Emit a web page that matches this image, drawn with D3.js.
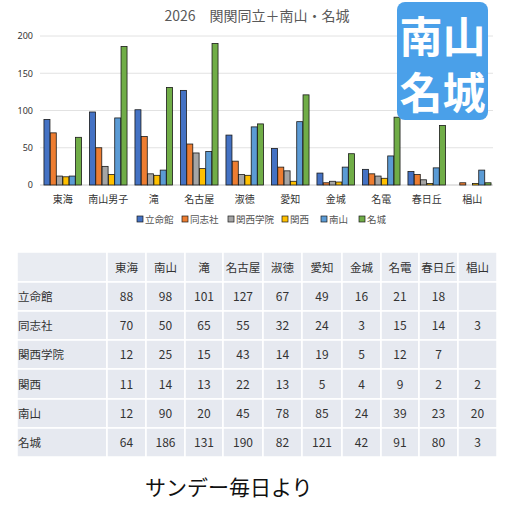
<!DOCTYPE html>
<html>
<head>
<meta charset="utf-8">
<script src="https://cdn.jsdelivr.net/npm/d3@7"></script>
<style>
body{margin:0;background:#fff;font-family:"Noto Sans CJK JP","Noto Sans",sans-serif;}
</style>
</head>
<body>
<script>
const schools = ["東海","南山男子","滝","名古屋","淑徳","愛知","金城","名電","春日丘","椙山"];
const tableHeads = ["東海","南山","滝","名古屋","淑徳","愛知","金城","名電","春日丘","椙山"];
const univs = ["立命館","同志社","関西学院","関西","南山","名城"];
const ritsumeikan = [88,98,101,127,67,49,16,21,18,null];
const doshisha = [70,50,65,55,32,24,3,15,14,3];
const kwansei = [12,25,15,43,14,19,5,12,7,null];
const kansai = [11,14,13,22,13,5,4,9,2,2];
const nanzan = [12,90,20,45,78,85,24,39,23,20];
const meijo = [64,186,131,190,82,121,42,91,80,3];
const yTicks = [0,50,100,150,200];
const colors = ["#4472c4","#ed7d31","#a5a5a5","#ffc000","#5b9bd5","#70ad47"];

const series = [ritsumeikan,doshisha,kwansei,kansai,nanzan,meijo];

const svg = d3.select("body").append("svg")
    .attr("width",520).attr("height",520);

// title
svg.append("text")
    .attr("x",257).attr("y",21)
    .attr("text-anchor","middle")
    .attr("font-size",14)
    .attr("fill","#595959")
    .text("2026　関関同立＋南山・名城");

const x = d3.scaleBand().domain(schools).range([40,495]).paddingInner(0.16).paddingOuter(0.08);
const xs = d3.scaleBand().domain(univs).range([0,x.bandwidth()]).padding(0.05);
const y = d3.scaleLinear().domain([0,200]).range([185,36]);

// grid
svg.append("g").selectAll("line")
    .data(yTicks)
    .enter().append("line")
    .attr("x1",40).attr("x2",493)
    .attr("y1",d=>y(d)).attr("y2",d=>y(d))
    .attr("stroke",d=>d===0?"#c8c8c8":"#e2e2e2")
    .attr("stroke-width",1);

const yAxis = svg.append("g")
    .attr("transform","translate(36,0)")
    .call(d3.axisLeft(y).tickValues(yTicks).tickSize(0).tickPadding(3));
yAxis.select(".domain").remove();
yAxis.selectAll("text").attr("font-size",9).attr("fill","#333").attr("font-family","Noto Sans, sans-serif");

// bars
const groups = svg.append("g").selectAll("g")
    .data(schools)
    .enter().append("g")
    .attr("transform",d=>"translate("+x(d)+",0)");

groups.selectAll("rect")
    .data((d,i)=>univs.map((u,k)=>({u:u,v:series[k][i],k:k})))
    .enter().append("rect")
    .filter(d=>d.v!==null)
    .attr("x",d=>xs(d.u))
    .attr("width",xs.bandwidth())
    .attr("y",d=>y(d.v))
    .attr("height",d=>y(0)-y(d.v))
    .attr("fill",d=>colors[d.k])
    .attr("stroke","#1a1a1a")
    .attr("stroke-width",0.8);

// x labels
svg.append("g").selectAll("text")
    .data(schools)
    .enter().append("text")
    .attr("x",d=>x(d)+x.bandwidth()/2)
    .attr("y",203)
    .attr("text-anchor","middle")
    .attr("font-size",10)
    .attr("fill","#333")
    .text(d=>d);

// legend
const legendX = [137,182,228,282,321,359];
const leg = svg.append("g").selectAll("g")
    .data(univs)
    .enter().append("g")
    .attr("transform",(d,i)=>"translate("+legendX[i]+",220)");
leg.append("rect")
    .attr("x",0).attr("y",-4).attr("width",6).attr("height",6)
    .attr("fill",(d,i)=>colors[i])
    .attr("stroke","#1a1a1a").attr("stroke-width",0.7);
leg.append("text")
    .attr("x",8).attr("y",2.5)
    .attr("font-size",9.5)
    .attr("fill","#555")
    .text(d=>d);

// badge
svg.append("rect")
    .attr("x",397).attr("y",2).attr("width",91).attr("height",118)
    .attr("rx",8).attr("fill","#4aa0e9");
svg.append("text").attr("x",442.5).attr("y",53)
    .attr("text-anchor","middle").attr("font-size",43).attr("font-weight","bold")
    .attr("fill","#fff").text("南山");
svg.append("text").attr("x",442.5).attr("y",109)
    .attr("text-anchor","middle").attr("font-size",43).attr("font-weight","bold")
    .attr("fill","#fff").text("名城");

// table
const colX = [17,107,146,185,223,263,302,342,381,419,458,497];
const rowY = [252,282,311,340,369,399,428,457];
const table = svg.append("g");
const cells = [];
for (let r=0;r<7;r++){
    for (let c=0;c<11;c++){
        let t = "";
        if (r===0 && c>0) t = tableHeads[c-1];
        else if (r>0 && c===0) t = univs[r-1];
        else if (r>0 && c>0) { const v = series[r-1][c-1]; t = v===null?"":v; }
        cells.push({r:r,c:c,t:t});
    }
}
table.selectAll("rect")
    .data(cells)
    .enter().append("rect")
    .attr("x",d=>colX[d.c]).attr("y",d=>rowY[d.r])
    .attr("width",d=>colX[d.c+1]-colX[d.c])
    .attr("height",d=>rowY[d.r+1]-rowY[d.r])
    .attr("fill",d=>d.r===0?"#e9ecf2":"#e6e9f0")
    .attr("stroke","#fff").attr("stroke-width",1.5);
table.selectAll("text")
    .data(cells)
    .enter().append("text")
    .attr("x",d=>d.c===0?colX[0]+1:(colX[d.c]+colX[d.c+1])/2)
    .attr("y",d=>(rowY[d.r]+rowY[d.r+1])/2+4.5)
    .attr("text-anchor",d=>d.c===0?"start":"middle")
    .attr("font-size",d=>d.r===0||d.c===0?11.5:12)
    .attr("fill","#333")
    .text(d=>d.t);

// source
svg.append("text")
    .attr("x",145).attr("y",495)
    .attr("font-size",21)
    .attr("fill","#111")
    .text("サンデー毎日より");
</script>
</body>
</html>
